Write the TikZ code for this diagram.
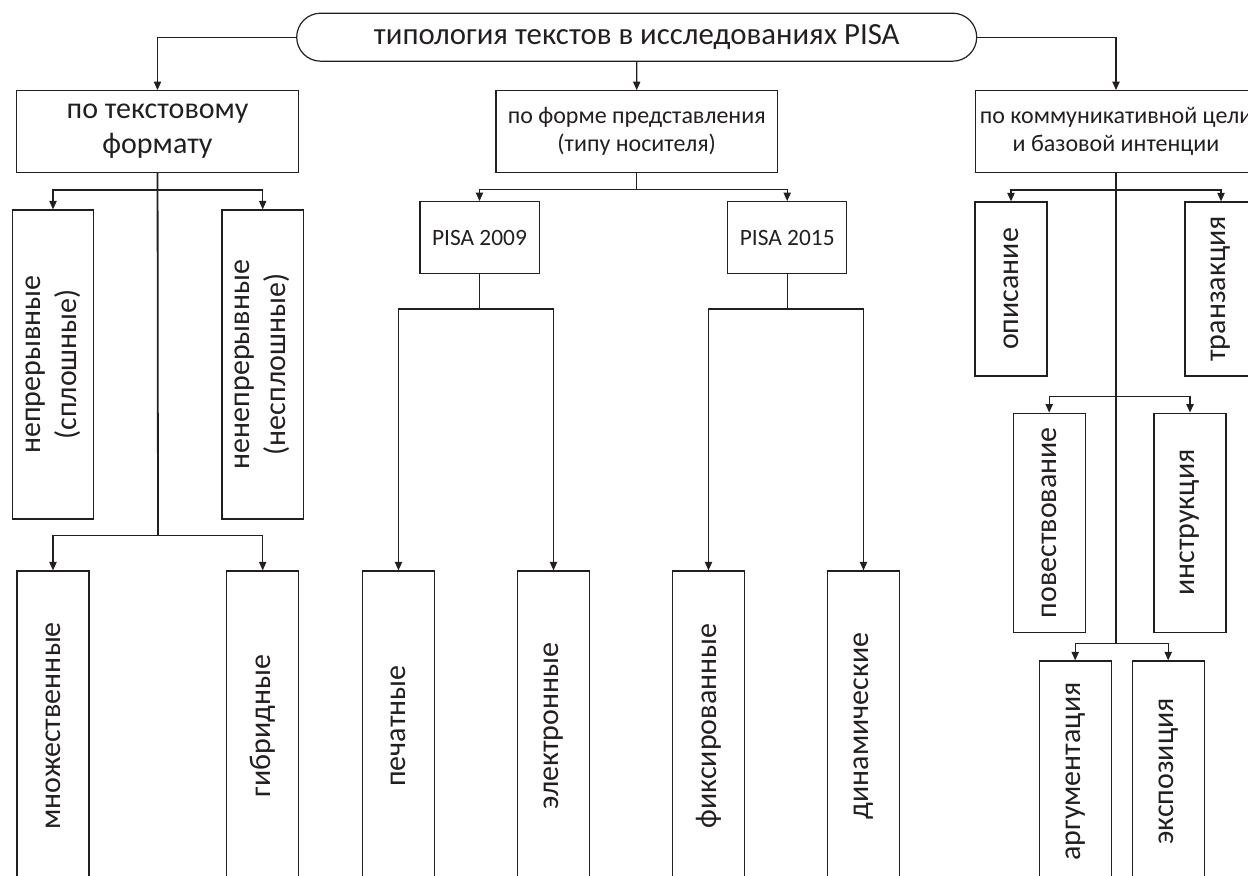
\documentclass[tikz,border=0pt]{standalone}
\usepackage{fontspec}
\setmainfont{Carlito}
\usetikzlibrary{shapes.misc,arrows.meta,positioning}
\definecolor{darkline}{RGB}{35,31,32}

\begin{document}
\begin{tikzpicture}[
    x=0.5pt, y=-0.5pt,
    box/.style={draw=darkline, text=darkline, line width=0.6pt, align=center, inner sep=0pt},
    head/.style={box, rounded rectangle, minimum width=340pt, minimum height=24pt, font=\fontsize{15.4}{18}\selectfont},
    group/.style={box, minimum width=140.8pt, minimum height=40.8pt, font=\fontsize{12}{13.7}\selectfont},
    year/.style={box, minimum width=59.6pt, minimum height=35.8pt, font=\fontsize{11.7}{14}\selectfont},
    leaf/.style={box, rotate=90, minimum height=36pt, font=\fontsize{15}{18}\selectfont},
    arrow/.style={-{Triangle[length=4.2pt,width=3.6pt]}, line width=0.6pt, darkline},
    link/.style={line width=0.6pt, darkline},
    trunk/.style={line width=0.9pt, darkline}
]
\useasboundingbox (0,0) rectangle (1248,876);

% Root
\node[head] (title) at (636.7,37.2) {типология текстов в исследованиях PISA};

% Groups
\node[group, font=\fontsize{15}{17.5}\selectfont] (fmt) at (157.5,131.5) {по текстовому\\формату};
\node[group] (form) at (636.7,131.5) {по форме представления\\(типу носителя)};
\node[group] (comm) at (1116,131.5) {по коммуникативной цели\\и базовой интенции};

% Text format
\node[leaf, minimum width=154.5pt, minimum height=40.7pt] (cont) at (53,364.5) {непрерывные\\(сплошные)};
\node[leaf, minimum width=154.5pt, minimum height=40.7pt] (ncont) at (262.7,364.5) {ненепрерывные\\(несплошные)};
\node[leaf, minimum width=155pt] (mult) at (53,726) {множественные};
\node[leaf, minimum width=155pt] (hybr) at (262.7,726) {гибридные};

% Form of presentation
\node[year] (p09) at (479.5,237.5) {PISA 2009};
\node[year] (p15) at (787.2,237.5) {PISA 2015};
\node[leaf, minimum width=155pt] (print) at (398.5,726) {печатные};
\node[leaf, minimum width=155pt] (elec) at (553.5,726) {электронные};
\node[leaf, minimum width=155pt] (fixed) at (708.5,726) {фиксированные};
\node[leaf, minimum width=155pt] (dyn) at (863.5,726) {динамические};

% Communicative aim
\node[leaf, minimum width=87pt] (descr) at (1011,289) {описание};
\node[leaf, minimum width=87pt] (trans) at (1221,289) {транзакция};
\node[leaf, minimum width=109.5pt] (narr) at (1049.2,522.7) {повествование};
\node[leaf, minimum width=109.5pt] (instr) at (1190,522.7) {инструкция};
\node[leaf, minimum width=110.5pt] (arg) at (1075.2,771.5) {аргументация};
\node[leaf, minimum width=110.5pt] (expo) at (1168.2,771.5) {экспозиция};

% Branch points
\coordinate (fmtA) at (158,190);
\coordinate (fmtB) at (158,535.3);
\coordinate (formA) at (636.7,189.5);
\coordinate (p09A) at (479.5,309);
\coordinate (p15A) at (787.2,309);
\coordinate (commA) at (1116,190);
\coordinate (commB) at (1116,396.5);
\coordinate (commC) at (1116,643.3);

% Arrows - root
\draw[arrow] (title) -| (fmt);
\draw[arrow] (title) -- (form);
\draw[arrow] (title) -| (comm);

% Arrows - text format
\draw[trunk] (fmt) -- (fmtB);
\draw[arrow] (fmtA) -| (cont);
\draw[arrow] (fmtA) -| (ncont);
\draw[arrow] (fmtB) -| (mult);
\draw[arrow] (fmtB) -| (hybr);

% Arrows - form of presentation
\draw[link] (form) -- (formA);
\draw[arrow] (formA) -| (p09);
\draw[arrow] (formA) -| (p15);
\draw[link] (p09) -- (p09A);
\draw[arrow] (p09A) -| (print);
\draw[arrow] (p09A) -| (elec);
\draw[link] (p15) -- (p15A);
\draw[arrow] (p15A) -| (fixed);
\draw[arrow] (p15A) -| (dyn);

% Arrows - communicative aim
\draw[trunk] (comm) -- (commC);
\draw[arrow] (commA) -| (descr);
\draw[arrow] (commA) -| (trans);
\draw[arrow] (commB) -| (narr);
\draw[arrow] (commB) -| (instr);
\draw[arrow] (commC) -| (arg);
\draw[arrow] (commC) -| (expo);

\end{tikzpicture}
\end{document}
